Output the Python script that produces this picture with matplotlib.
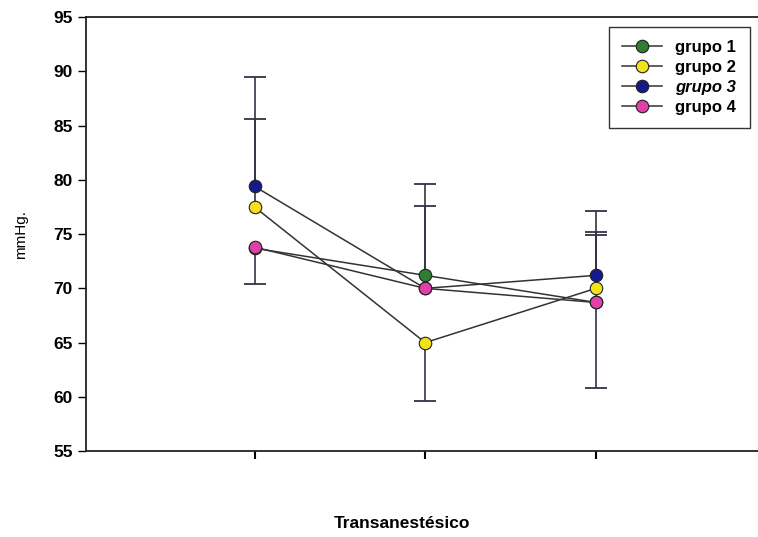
import numpy as np
import matplotlib
matplotlib.use("Agg")
import matplotlib.pyplot as plt

plt.rcParams['font.family'] = ['Liberation Sans', 'DejaVu Sans']

# data
x_pos = [1, 2, 3]
groups = ["grupo 1", "grupo 2", "grupo 3", "grupo 4"]
colors = ["#2e7d32", "#f2e21a", "#141a8c", "#e040a8"]

grupo1 = [73.7, 71.2, 68.7]
grupo2 = [77.5, 65.0, 70.0]
grupo3 = [79.4, 70.0, 71.2]
grupo4 = [73.8, 70.0, 68.7]

# error bars, only one direction per point (nan = none)
err_lo = [
    [np.nan, np.nan, 7.9],
    [np.nan, 5.4, np.nan],
    [np.nan, np.nan, np.nan],
    [3.4, np.nan, np.nan],
]
err_hi = [
    [np.nan, 8.4, np.nan],
    [8.1, np.nan, 5.2],
    [10.1, np.nan, 5.9],
    [np.nan, 7.6, 6.2],
]

series = [grupo1, grupo2, grupo3, grupo4]

fig = plt.figure(figsize=(7.58, 5.37), dpi=100)
ax = fig.add_axes([0.113, 0.160, 0.887, 0.808])

# error bars (behind markers)
for i, vals in enumerate(series):
    v = np.array(vals)
    lo = np.nan_to_num(np.array(err_lo[i]))
    hi = np.nan_to_num(np.array(err_hi[i]))
    ax.errorbar(x_pos, v, yerr=[lo, hi], fmt="none", ecolor="#333344",
                elinewidth=1.2, capsize=0, zorder=1)
    # caps only where a bar exists
    ax.plot(x_pos, v + np.array(err_hi[i]), ls="none", marker="_", ms=16,
            mew=1.3, color="#333344", zorder=1)
    ax.plot(x_pos, v - np.array(err_lo[i]), ls="none", marker="_", ms=16,
            mew=1.3, color="#333344", zorder=1)

for i, vals in enumerate(series):
    ax.plot(x_pos, vals, color="#333333", lw=1.1, marker="o", ms=9,
            mfc=colors[i], mec="#222222", mew=0.8, label=groups[i], zorder=3)

ax.set_xlim(0.01, 3.95)
ax.set_ylim(55, 95)
ax.set_yticks(range(55, 96, 5))
ax.set_xticks(x_pos)
ax.set_xticklabels([])
ax.tick_params(axis="y", direction="out", length=6, width=1, labelsize=12.5)
ax.tick_params(axis="x", direction="out", length=6, width=1.5)
for lab in ax.get_yticklabels():
    lab.set_fontweight("bold")

ax.spines["right"].set_visible(False)
for s in ["left", "top", "bottom"]:
    ax.spines[s].set_linewidth(1.3)
    ax.spines[s].set_color("#222222")

ax.set_ylabel("mmHg.", fontsize=11, labelpad=18)
fig.text(0.53, 0.012, "Transanestésico", ha="center", va="bottom",
         fontsize=12.5, fontweight="bold")

leg = ax.legend(loc="upper right", bbox_to_anchor=(1.0, 0.997),
                fancybox=False, framealpha=1, edgecolor="#333333",
                handlelength=2.4, borderpad=0.8, labelspacing=0.3,
                prop={"weight": "bold", "size": 12})
leg.get_frame().set_linewidth(1.0)
leg.get_texts()[2].set_fontstyle("italic")

fig.savefig("out.png", dpi=100)
